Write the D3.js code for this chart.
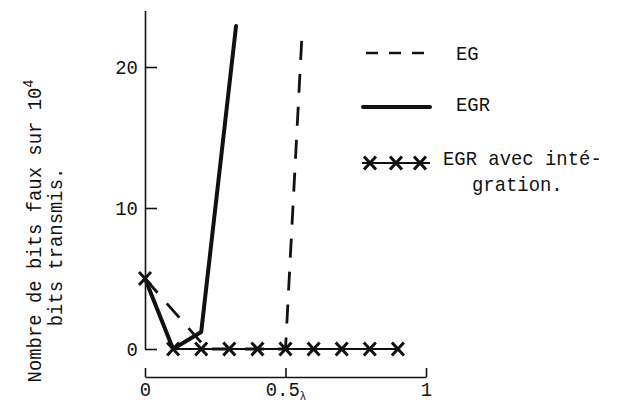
<!DOCTYPE html>
<html><head><meta charset="utf-8">
<script src="https://cdn.jsdelivr.net/npm/d3@7"></script>
<style>
body{margin:0;background:#fff;}
text{font-family:"Liberation Mono","DejaVu Sans Mono",monospace;fill:#111;}
</style></head>
<body><svg id="c" width="621" height="412"></svg>
<script>
// Data
const xTicks = [0, 0.5, 1];
const xTickLabels = ["0", "0.5", "1"];
const yTicks = [0, 10, 20];
const egX = [0, 0.22, 0.5, 0.56];
const egY = [5, 0, 0, 22.8];
const egrX = [0, 0.1, 0.2, 0.324];
const egrY = [5, 0, 1.2, 22.9];
const intX = [0, 0.1, 0.2, 0.3, 0.4, 0.5, 0.6, 0.7, 0.8, 0.9];
const intY = [5, 0, 0, 0, 0, 0, 0, 0, 0, 0];
const legendLabels = ["EG", "EGR", "EGR avec inté-", "gration."];
const yTitle1 = "Nombre de bits faux sur 10";
const yTitle2 = "bits transmis.";

const FS = "21px", SX = 0.9;
const svg = d3.select("#c");
const x = d3.scaleLinear().domain([0, 1]).range([145, 426]);
const y = d3.scaleLinear().domain([0, 24]).range([349, 10.6]);
const ink = "#111";

// Y axis
const yAxis = svg.append("g").attr("transform", "translate(145,0)")
  .call(d3.axisLeft(y).tickValues(yTicks).tickSizeInner(-12).tickSizeOuter(0).tickPadding(8).tickFormat(d3.format("d")));
yAxis.select(".domain").attr("stroke", ink).attr("stroke-width", 1.6);
yAxis.selectAll(".tick line").attr("stroke", ink).attr("stroke-width", 1.6);
yAxis.selectAll(".tick text").style("font-size", FS).attr("fill", ink)
  .attr("font-family", "Liberation Mono").attr("transform", `scale(${SX},1)`);

// X axis
const xAxis = svg.append("g").attr("transform", "translate(0,377)")
  .call(d3.axisBottom(x).tickValues(xTicks).tickSizeInner(-9).tickSizeOuter(0).tickPadding(4)
    .tickFormat((d, i) => xTickLabels[i]));
xAxis.select(".domain").attr("stroke", ink).attr("stroke-width", 1.6);
xAxis.selectAll(".tick line").attr("stroke", ink).attr("stroke-width", 1.6);
xAxis.selectAll(".tick text").style("font-size", FS).attr("fill", ink).attr("font-family", "Liberation Mono")
  .attr("transform", `scale(${SX},1)`);
xAxis.selectAll(".tick").filter(d => d === 0.5).select("text")
  .append("tspan").attr("dy", "0.35em").style("font-size", "12px").text("λ");

// Y title
const yt = svg.append("text").attr("transform", `translate(41,231) rotate(-90) scale(${SX},1)`)
  .attr("text-anchor", "middle").style("font-size", FS);
yt.append("tspan").text(yTitle1);
yt.append("tspan").attr("dy", "-0.55em").style("font-size", "15px").text("4");
svg.append("text").attr("transform", `translate(62,247) rotate(-90) scale(${SX},1)`)
  .attr("text-anchor", "middle").style("font-size", FS).text(yTitle2);

const line = d3.line();
const pts = (xs, ys) => xs.map((v, i) => [x(v), y(ys[i])]);

// Integration line (thin)
svg.append("path").attr("d", line(pts(intX, intY))).attr("fill", "none")
  .attr("stroke", ink).attr("stroke-width", 1.8);
// EG dashed
svg.append("path").attr("d", line(pts(egX, egY))).attr("fill", "none")
  .attr("stroke", ink).attr("stroke-width", 2.8).attr("stroke-dasharray", "19,14");
// EGR solid thick
svg.append("path").attr("d", line(pts(egrX, egrY))).attr("fill", "none")
  .attr("stroke", ink).attr("stroke-width", 4).attr("stroke-linejoin", "round").attr("stroke-linecap", "round");

// markers
const cross = "M-6,-6.5L6,6.5M-6,6.5L6,-6.5";
svg.selectAll("path.mk").data(pts(intX, intY)).join("path").attr("class", "mk")
  .attr("transform", d => `translate(${d[0]},${d[1]})`).attr("d", cross)
  .attr("stroke", ink).attr("stroke-width", 3).attr("fill", "none");

// Legend
const lg = svg.append("g");
const ltext = (tx, ty, s) => lg.append("g").attr("transform", `translate(${tx},${ty}) scale(${SX},1)`)
  .append("text").attr("dy", "0.35em").style("font-size", FS).text(s);
lg.append("line").attr("x1", 366).attr("x2", 428).attr("y1", 53).attr("y2", 53)
  .attr("stroke", ink).attr("stroke-width", 2.6).attr("stroke-dasharray", "12,11");
ltext(456, 53, legendLabels[0]);
lg.append("line").attr("x1", 363).attr("x2", 430).attr("y1", 107).attr("y2", 107)
  .attr("stroke", ink).attr("stroke-width", 4).attr("stroke-linecap", "round");
ltext(456, 104, legendLabels[1]);
lg.append("line").attr("x1", 362).attr("x2", 430).attr("y1", 163).attr("y2", 163)
  .attr("stroke", ink).attr("stroke-width", 1.8);
lg.selectAll("path.lm").data([370, 396, 420]).join("path").attr("class", "lm")
  .attr("transform", d => `translate(${d},163)`).attr("d", cross)
  .attr("stroke", ink).attr("stroke-width", 3).attr("fill", "none");
ltext(443, 158, legendLabels[2]);
ltext(472, 184, legendLabels[3]);
</script></body></html>
